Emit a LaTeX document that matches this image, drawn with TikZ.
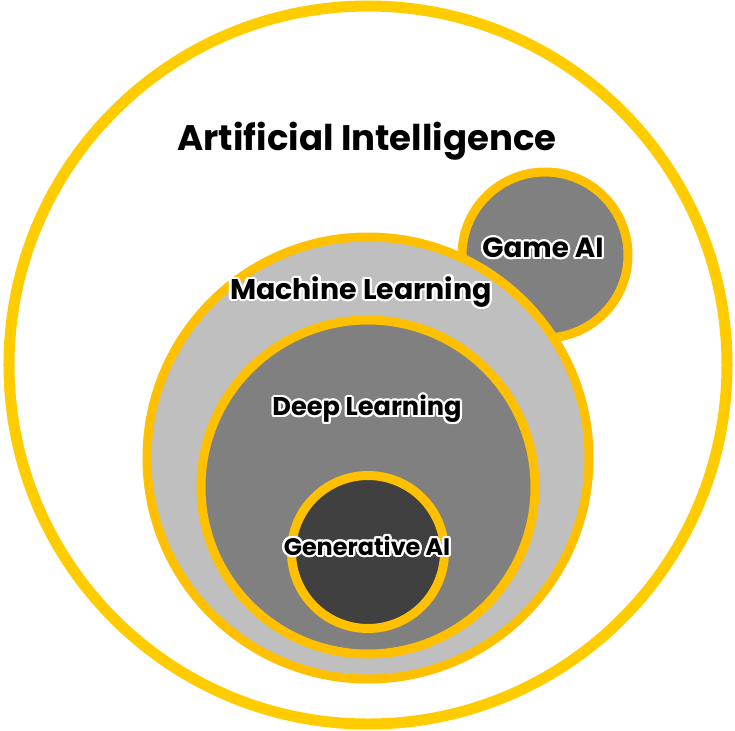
\documentclass[tikz,border=0pt]{standalone}
\usepackage{fontspec}
\setmainfont{Poppins}
\usepackage[copies]{contour}
\contourlength{0.45mm}
\contournumber{16}
\definecolor{giallo}{RGB}{255,204,0}
\definecolor{ocra}{RGB}{255,192,0}
\definecolor{grigiochiaro}{RGB}{191,191,191}
\definecolor{grigio}{RGB}{128,128,128}
\definecolor{grigioscuro}{RGB}{64,64,64}
\begin{document}
\begin{tikzpicture}[x=0.2mm,y=-0.2mm,
    cerchio/.style={circle,draw=ocra,line width=1.8mm,inner sep=0pt},
    testo/.style={inner sep=0pt,font=\bfseries}]
  \useasboundingbox (0,0) rectangle (735,731);

  % ---- cerchi --------------------------------------------------------------
  \node[cerchio,draw=giallo,line width=2.2mm,fill=white,minimum size=143.6mm] (ai) at (368,365) {};
  \node[cerchio,fill=grigio,minimum size=33.2mm]       (game) at (545,255) {};
  \node[cerchio,fill=grigiochiaro,minimum size=88.4mm] (ml)   at (368,458) {};
  \node[cerchio,fill=grigio,minimum size=66.8mm]       (dl)   at (368,487) {};
  \node[cerchio,fill=grigioscuro,minimum size=30.6mm]  (gen)  at (368,552) {};

  % ---- etichette -----------------------------------------------------------
  \node[testo,font=\bfseries\fontsize{20.2}{20.2}\selectfont] (tai) at (367,141) {Artificial Intelligence};
  \node[testo,font=\bfseries\fontsize{15.8}{15.8}\selectfont] (tgame) at (543,249) {\contour{white}{Game AI}};
  \node[testo,font=\bfseries\fontsize{16.2}{16.2}\selectfont] (tml)   at (361,293) {\contour{white}{Machine Learning}};
  \node[testo,font=\bfseries\fontsize{14.6}{14.6}\selectfont] (tdl)   at (367,410) {\contour{white}{Deep Learning}};
  \node[testo,font=\bfseries\fontsize{13.6}{13.6}\selectfont] (tgen)  at (367,547) {\contour{white}{Generative AI}};
\end{tikzpicture}
\end{document}
